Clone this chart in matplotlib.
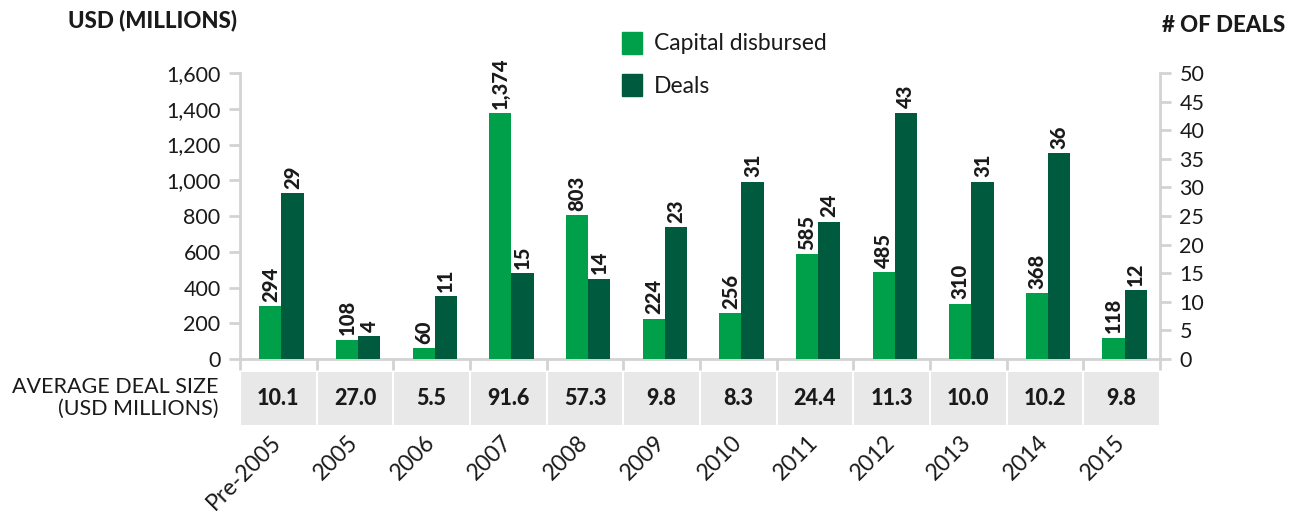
import numpy as np
import matplotlib
matplotlib.use('Agg')
import matplotlib.pyplot as plt
from matplotlib.patches import Patch

plt.rcParams['font.family'] = ['Lato', 'DejaVu Sans']

# Data
years = ['Pre-2005', '2005', '2006', '2007', '2008', '2009', '2010',
         '2011', '2012', '2013', '2014', '2015']
capital = [294, 108, 60, 1374, 803, 224, 256, 585, 485, 310, 368, 118]
deals = [29, 4, 11, 15, 14, 23, 31, 24, 43, 31, 36, 12]
avg_size = [10.1, 27.0, 5.5, 91.6, 57.3, 9.8, 8.3, 24.4, 11.3, 10.0, 10.2, 9.8]

GREEN = '#00A04B'
DARK = '#005A3D'
GRID = '#D3D3D3'
TXT = '#1A1A1A'

W, H = 1296, 524
fig = plt.figure(figsize=(W / 100, H / 100), dpi=100)

left, right = 240 / W, 1160 / W
ax = fig.add_axes([left, 1 - 359 / H, right - left, (359 - 73) / H])
ax2 = ax.twinx()

x = np.arange(len(years))
bw = 0.29
off = 0.04

ax.bar(x + off - bw / 2, capital, bw, color=GREEN, zorder=3)
ax2.bar(x + off + bw / 2, deals, bw, color=DARK, zorder=3)

for xi, v in zip(x, capital):
    ax.text(xi + off - bw / 2, v + 25, f'{v:,}', rotation=90, ha='center', va='bottom',
            fontsize=14.5, fontweight='black', color=TXT)
for xi, v in zip(x, deals):
    ax2.text(xi + off + bw / 2, v + 0.8, f'{v}', rotation=90, ha='center', va='bottom',
             fontsize=14.5, fontweight='black', color=TXT)

ax.set_xlim(-0.5, len(years) - 0.5)
ax.set_ylim(0, 1600)
ax2.set_ylim(0, 50)
ax.set_yticks(range(0, 1601, 200))
ax.set_yticklabels([f'{v:,}' for v in range(0, 1601, 200)])
ax2.set_yticks(range(0, 51, 5))

# x ticks at category boundaries, no labels
ax.set_xticks(np.arange(-0.5, len(years), 1.0))
ax.set_xticklabels([])

for a in (ax, ax2):
    for s in a.spines.values():
        s.set_visible(False)
    a.tick_params(colors=GRID, labelcolor=TXT, labelsize=15.5, length=8, width=2)
ax.spines['left'].set_visible(True)
ax.spines['left'].set_color(GRID)
ax.spines['left'].set_linewidth(2)
ax.spines['bottom'].set_visible(True)
ax.spines['bottom'].set_color(GRID)
ax.spines['bottom'].set_linewidth(2)
ax2.spines['right'].set_visible(True)
ax2.spines['right'].set_color(GRID)
ax2.spines['right'].set_linewidth(2)
ax.tick_params(axis='y', pad=6)
ax2.tick_params(axis='y', pad=6)

fig.text(68 / W, 1 - 20 / H, 'USD (MILLIONS)', fontsize=16, fontweight='black',
         color=TXT, ha='left', va='center')
fig.text(1285 / W, 1 - 25 / H, '# OF DEALS', fontsize=16, fontweight='black',
         color=TXT, ha='right', va='center')

# Average deal size row
tab = fig.add_axes([left, 1 - 425 / H, right - left, 53 / H])
tab.bar(x, [1] * len(years), 0.975, color='#E8E8E8')
for xi, v in zip(x, avg_size):
    tab.text(xi, 0.5, f'{v:.1f}', ha='center', va='center', fontsize=15.5,
             fontweight='black', color=TXT)
tab.set_xlim(-0.5, len(years) - 0.5)
tab.set_ylim(0, 1)
tab.axis('off')
fig.text(218 / W, 1 - 398 / H, 'AVERAGE DEAL SIZE\n(USD MILLIONS)', ha='right', va='center',
         fontsize=15.5, color=TXT, linespacing=1.15)

# Rotated year labels
for xi, lab in zip(x, years):
    tab.text(xi - 0.1, -0.12, lab, rotation=45, ha='right', va='top',
             rotation_mode='anchor', fontsize=16.5, color=TXT)

handles = [Patch(color=GREEN, label='Capital disbursed'), Patch(color=DARK, label='Deals')]
fig.legend(handles=handles, loc='upper left', bbox_to_anchor=(601 / W, 1 - 11 / H),
           frameon=False, fontsize=16.5, handlelength=0.9, handleheight=1.1,
           handletextpad=0.5, labelspacing=0.85, labelcolor=TXT)

fig.savefig('out.png', dpi=100)
